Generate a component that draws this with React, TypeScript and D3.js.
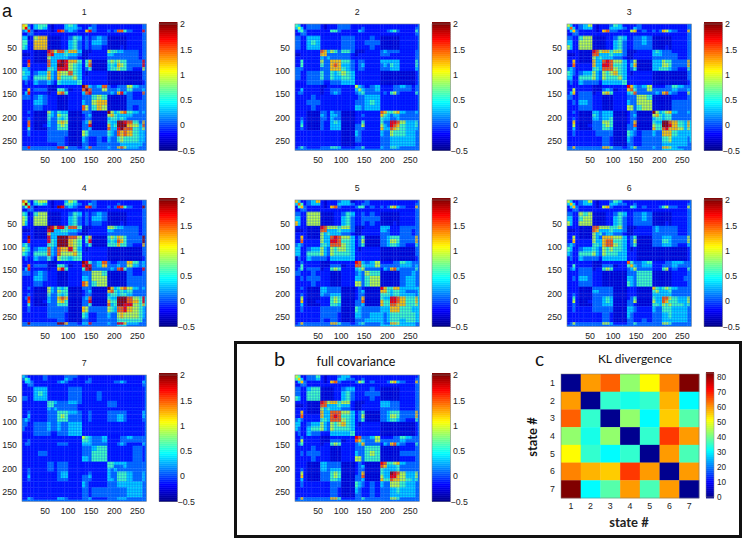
import React from "react";
import * as d3 from "d3";

// Upper triangles of the state covariance matrices (symmetric).
const bandEdges = [0,6,12,18,25,35,45,55,62,69,76,84,92,100,110,120,130,137,144,151,162,173,185,192,199,206,213,220,227,240,253,261,266,270];
// value of each code 0..a
const codeValues = [-0.5, -0.32, -0.15, 0.08, 0.32, 0.6, 0.9, 1.2, 1.45, 1.7, 1.95];
// positions (matrix index) of the fine ripple seen in the matrices
const ripple = [27,33,39,45,51,58,64,70,76,82,88,94,100,106,112,118,124,137,143,149,155,161,167,173,179,185,191,197,203,209,215,221,227,233,239,245,251,257,263];

const R3 = "3 222 222 222 222 222 222 222 222 222 33";

const state1 = ["763 2 455 212 224 542 222 322 222 222 222 33","94 2 454 212 224 443 224 322 222 222 222 33","9 3 122 212 983 432 279 322 323 885 322 93",R3,"677 111 122 354 232 343 111 111 222 33","77 111 122 453 232 443 111 111 222 33","7 111 122 453 232 332 111 121 222 33","986 885 774 111 222 655 443 332 33","94 445 443 112 222 443 333 332 33","4 444 332 112 222 333 333 332 33","9a9 775 257 111 565 655 333 93","a9 654 258 111 454 765 333 93","9 654 235 111 455 655 322 63","854 212 222 111 111 111 33","64 222 222 111 111 111 33","5 222 222 111 111 111 23","a84 348 322 333 643 33","a8 336 333 433 533 43","9 333 343 794 322 83","565 111 111 322 33","77 111 111 333 33","6 111 111 323 33","a64 578 543 43","75 444 433 33","5 454 333 33","aa9 853 73","aa 764 83","8 854 63","754 43","54 43","4 33","33","3"];
const state2 = ["542 2 333 212 223 332 222 222 222 222 222 23","64 2 333 212 223 332 223 222 222 222 222 33","5 3 222 222 553 222 243 222 223 453 222 53",R3,"444 222 222 333 222 232 111 111 222 23","54 222 222 333 222 333 111 111 222 23","4 222 222 333 222 232 111 111 222 23","874 653 553 111 222 343 333 222 33","73 333 332 122 222 333 222 222 33","4 333 332 222 222 222 222 222 33","777 553 233 222 444 444 222 53","87 443 234 222 343 544 222 53","7 543 233 222 333 444 222 43","654 222 222 111 111 111 23","54 222 222 111 111 111 23","4 222 222 111 111 111 23","643 234 222 233 432 33","64 334 222 233 332 33","5 333 232 563 222 53","444 222 222 222 23","54 222 222 222 23","4 222 222 222 23","875 567 433 43","54 344 333 33","4 334 333 33","998 644 53","87 544 53","6 544 43","544 33","44 33","4 33","33","3"];
const state3 = ["642 2 346 212 223 542 222 322 222 222 222 33","84 2 344 212 224 443 224 322 222 222 222 33","7 3 222 212 783 322 267 232 323 764 322 73",R3,"566 111 122 354 223 343 111 111 222 33","66 111 122 453 223 343 111 111 222 33","6 111 122 453 223 333 111 121 222 33","986 775 663 111 222 454 333 222 33","84 445 443 112 222 444 333 322 33","5 444 332 112 222 333 333 322 33","898 664 236 111 444 655 333 73","98 554 247 111 444 665 333 73","8 654 235 111 445 554 322 53","754 212 222 111 111 111 33","64 222 222 111 111 111 33","5 222 222 111 111 111 23","974 346 222 233 543 33","85 336 333 333 433 43","8 333 343 784 322 63","665 111 111 222 33","66 111 111 333 33","6 111 111 333 33","a64 567 433 43","75 455 333 33","5 455 333 33","aa8 754 74","a9 754 74","7 764 64","544 44","44 34","4 33","33","3"];
const state4 = ["863 2 566 212 224 652 222 322 222 222 222 33","a5 2 454 212 225 543 224 322 222 322 222 33","9 3 122 212 a93 432 289 322 323 985 322 a3",R3,"566 111 122 354 232 343 111 111 222 33","66 111 122 453 232 443 111 111 222 33","6 111 122 453 232 332 111 121 222 33","a97 995 885 111 222 665 443 332 33","a4 455 443 112 222 443 333 332 33","4 444 332 112 222 333 333 332 33","aaa 886 257 111 565 765 333 a3","aa 765 259 111 454 875 333 a3","a 765 235 111 555 755 322 73","964 212 222 111 111 111 33","75 222 222 111 111 111 33","5 222 222 111 111 111 23","a95 348 322 333 753 43","a9 347 333 433 643 43","a 333 343 895 322 93","665 111 111 322 33","66 111 111 333 33","6 111 111 333 33","a74 578 643 43","85 454 533 33","5 455 433 33","aaa 865 94","aa 875 94","9 965 74","765 43","65 43","5 33","33","3"];
const state5 = ["742 2 347 212 223 441 222 322 222 222 222 23","85 2 344 212 224 443 223 322 222 222 222 33","7 3 222 212 783 222 355 232 323 674 322 73",R3,"666 111 122 354 223 232 111 111 222 33","66 111 122 453 223 333 111 111 222 33","6 111 122 453 223 232 111 121 222 33","986 665 663 111 222 444 222 333 33","84 445 443 112 222 443 222 332 33","5 444 332 112 222 333 222 332 33","898 664 235 111 334 555 333 73","98 554 236 111 334 665 333 73","8 654 235 111 334 554 322 53","654 212 222 111 111 111 33","54 222 222 111 111 111 33","4 222 222 111 111 111 23","984 346 222 233 543 33","85 446 333 333 443 43","6 333 243 784 333 53","655 111 111 334 33","66 111 111 344 33","6 111 111 344 33","975 577 444 44","75 455 433 34","5 455 444 34","998 755 74","98 755 74","7 755 64","554 44","55 44","5 44","33","3"];
const state6 = ["642 2 346 212 223 542 222 222 222 222 222 23","74 2 344 212 224 433 223 222 222 222 222 33","7 3 222 212 673 222 254 232 223 563 322 63",R3,"656 111 122 354 223 343 111 111 222 33","66 111 122 453 223 343 111 111 222 33","6 111 122 453 223 333 111 121 222 33","886 665 563 111 222 343 333 322 33","74 445 443 112 222 343 333 322 33","5 344 332 112 222 333 333 322 33","777 664 235 111 333 444 333 63","88 554 236 111 333 554 333 63","8 654 235 111 333 444 322 43","554 212 111 111 111 111 23","44 222 111 111 111 111 23","4 222 111 111 111 111 23","853 345 222 233 443 33","74 344 222 333 433 33","6 333 222 562 322 53","555 111 111 222 33","55 111 111 223 33","5 111 111 222 33","754 565 433 33","64 445 333 33","4 444 333 33","886 544 63","75 544 63","6 554 53","444 33","44 33","4 33","33","3"];
const state7 = ["432 2 223 222 223 332 222 222 222 222 222 23","54 2 223 222 224 322 223 222 222 222 222 23","4 3 222 222 343 222 233 222 223 343 222 43",R3,"444 222 222 333 222 222 222 222 222 23","54 222 222 333 222 232 222 222 222 23","4 222 222 333 222 232 222 222 222 23","554 333 443 222 222 333 222 222 23","53 333 332 222 222 333 222 222 23","4 333 332 222 222 222 222 222 23","555 443 223 222 333 333 222 43","65 333 223 222 333 443 222 43","5 333 223 222 333 443 222 33","444 222 222 222 222 222 23","44 222 222 222 222 222 23","4 222 222 222 222 222 23","654 334 222 233 433 33","54 334 222 233 333 33","4 333 222 343 222 43","455 222 222 233 23","55 222 222 233 23","5 222 222 233 23","554 444 333 33","53 334 333 33","4 333 333 33","555 433 43","55 433 43","5 433 43","444 33","44 33","4 33","33","3"];
const fullCov = ["652 2 335 212 223 442 222 222 222 222 222 23","74 2 334 212 224 433 223 222 222 222 222 33","7 3 222 212 783 222 365 232 223 674 322 73",R3,"455 111 122 344 222 232 111 111 222 33","55 111 122 453 222 333 111 111 222 33","5 111 122 453 222 232 111 111 222 33","986 775 662 111 222 444 333 222 33","84 445 442 112 222 444 333 222 33","5 444 332 112 222 333 333 222 33","888 664 235 111 334 555 333 73","98 554 236 111 334 665 333 73","8 654 235 111 334 554 322 53","754 212 222 111 111 111 23","54 222 222 111 111 111 23","5 222 222 111 111 111 23","983 346 222 233 543 33","74 336 333 333 433 33","7 333 243 784 322 53","555 111 111 222 33","65 111 111 333 33","5 111 111 222 33","985 567 433 33","74 445 333 33","4 445 333 33","a98 644 63","97 644 63","7 654 53","544 33","44 33","4 33","33","3"];

const klStates = [1, 2, 3, 4, 5, 6, 7];
const klValues = [
  [0, 60, 65, 43, 52, 62, 83],
  [60, 0, 35, 33, 35, 58, 31],
  [65, 35, 0, 43, 31, 56, 38],
  [43, 33, 43, 0, 35, 68, 60],
  [52, 35, 31, 35, 0, 60, 37],
  [62, 58, 56, 68, 60, 0, 60],
  [83, 31, 38, 60, 37, 60, 0],
];

const matrixTicks = [50, 100, 150, 200, 250];
const barTicks = [-0.5, 0, 0.5, 1, 1.5, 2];
const klBarTicks = [0, 10, 20, 30, 40, 50, 60, 70, 80];

const panels = [
  { title: "1", rows: state1, x: 22, y: 24 },
  { title: "2", rows: state2, x: 295, y: 24 },
  { title: "3", rows: state3, x: 567, y: 24 },
  { title: "4", rows: state4, x: 22, y: 200 },
  { title: "5", rows: state5, x: 295, y: 200 },
  { title: "6", rows: state6, x: 567, y: 200 },
  { title: "7", rows: state7, x: 22, y: 375 },
  { title: "", rows: fullCov, x: 295, y: 375 },
];

const jetStops = ["#00008f", "#0000ff", "#00ffff", "#ffff00", "#ff0000", "#800000"];
const jetAt = d3.scaleLinear<string>().domain([0, 1 / 8, 3 / 8, 5 / 8, 7 / 8, 1]).range(jetStops).clamp(true);
const covColor = (v: number) => jetAt((v + 0.5) / 2.5);
const klColor = (v: number) => jetAt(v / 83);

const sans = "'Liberation Sans', Arial, sans-serif";
const gill = "Lato, sans-serif";

function unpack(rows: string[]): number[][] {
  const n = bandEdges.length - 1;
  const m = d3.range(n).map(() => d3.range(n).map(() => 0));
  rows.forEach((r, i) => {
    const s = r.replace(/\s/g, "");
    d3.range(i, n).forEach((j) => {
      const ch = s[j - i] ?? "2";
      const v = codeValues[parseInt(ch, 16)];
      m[i][j] = v;
      m[j][i] = v;
    });
  });
  return m;
}

const W = 124.5;
const H = 126.5;

function CovPanel({ p, idx }: { p: (typeof panels)[number]; idx: number }) {
  const m = unpack(p.rows);
  const sx = d3.scaleLinear().domain([0, 270]).range([0, W]);
  const sy = d3.scaleLinear().domain([0, 270]).range([0, H]);
  const bar = d3.scaleLinear().domain([-0.5, 2]).range([H, 0]);
  const steps = d3.range(64).map((i) => -0.5 + (i * 2.5) / 63);
  return (
    <g transform={`translate(${p.x},${p.y})`}>
      <clipPath id={`clip${idx}`}>
        <rect x={0} y={0} width={W} height={H} />
      </clipPath>
      <g clipPath={`url(#clip${idx})`}>
        <g filter="url(#soft)">
          {m.map((row, i) =>
            row.map((v, j) => (
              <rect
                key={`${i}-${j}`}
                x={sx(bandEdges[j])}
                y={sy(bandEdges[i])}
                width={sx(bandEdges[j + 1]) - sx(bandEdges[j]) + 0.3}
                height={sy(bandEdges[i + 1]) - sy(bandEdges[i]) + 0.3}
                fill={covColor(v)}
              />
            ))
          )}
          {ripple.map((r) => (
            <g key={r} stroke="#0048ff" strokeOpacity={0.24} strokeWidth={1.2}>
              <line x1={sx(r)} x2={sx(r)} y1={0} y2={H} />
              <line y1={sy(r)} y2={sy(r)} x1={0} x2={W} />
            </g>
          ))}
        </g>
      </g>
      <rect width={W} height={H} fill="none" stroke="#6f7f9a" strokeWidth={0.6} />
      {p.title && (
        <text x={W / 2} y={-9} textAnchor="middle" fontFamily={sans} fontSize={8.8} fill="#222">{p.title}</text>
      )}
      {matrixTicks.map((t) => (
        <g key={t} fontFamily={sans} fontSize={8.8} fill="#222">
          <text x={sx(t)} y={H + 12} textAnchor="middle">{t}</text>
          <text x={-5} y={sy(t) + 3.2} textAnchor="end">{t}</text>
        </g>
      ))}
      <g transform={`translate(${137},0)`}>
        {steps.map((v, i) => (
          <rect key={i} x={0} y={bar(v) - H / 64} width={18.5} height={H / 63 + 0.4} fill={covColor(v)} />
        ))}
        <rect width={18.5} height={H} fill="none" stroke="#777" strokeWidth={0.5} />
        {barTicks.map((t) => (
          <text key={t} x={t < 0 ? 18.5 : 21} y={bar(t) + (t === 2 ? 2.5 : 3.2)} fontFamily={sans} fontSize={8.8} fill="#222">
            {t < 0 ? "\u22120.5" : t}
          </text>
        ))}
      </g>
    </g>
  );
}

function KLPanel() {
  const x0 = 561, y0 = 374, w = 138, h = 124;
  const sx = d3.scaleBand<number>().domain(klStates).range([0, w]);
  const sy = d3.scaleBand<number>().domain(klStates).range([0, h]);
  const bar = d3.scaleLinear().domain([0, 83]).range([124, 0]);
  const steps = d3.range(64).map((i) => (i * 83) / 63);
  return (
    <g transform={`translate(${x0},${y0})`}>
      <g filter="url(#soft)">
        {klValues.map((row, i) =>
          row.map((v, j) => (
            <rect key={`${i}-${j}`} x={sx(klStates[j])} y={sy(klStates[i])} width={sx.bandwidth() + 0.3} height={sy.bandwidth() + 0.3} fill={klColor(v)} />
          ))
        )}
      </g>
      <rect width={w} height={h} fill="none" stroke="#777" strokeWidth={0.5} />
      {klStates.map((s) => (
        <g key={s} fontFamily={sans} fontSize={8.8} fill="#222">
          <text x={sx(s)! + sx.bandwidth() / 2} y={h + 11} textAnchor="middle">{s}</text>
          <text x={-6} y={sy(s)! + sy.bandwidth() / 2 + 3} textAnchor="end">{s}</text>
        </g>
      ))}
      <text x={w / 2 - 1} y={h + 29} textAnchor="middle" fontFamily={gill} fontSize={13} fontWeight={700} fill="#222">state #</text>
      <text transform={`translate(-24.5,${h / 2 + 1}) rotate(-90)`} textAnchor="middle" fontFamily={gill} fontSize={13} fontWeight={700} fill="#111">state #</text>
      <text x={74} y={-11} textAnchor="middle" fontFamily={gill} fontSize={12} fill="#111">KL divergence</text>
      <g transform="translate(145,-1)">
        {steps.map((v, i) => (
          <rect key={i} x={0} y={bar(v) - 1} width={8} height={2.4} fill={klColor(v)} />
        ))}
        <rect width={8} height={124} fill="none" stroke="#888" strokeWidth={0.5} />
        {klBarTicks.map((t) => (
          <text key={t} x={11} y={bar(t) + 3} fontFamily={sans} fontSize={8.2} fill="#222">{t}</text>
        ))}
      </g>
    </g>
  );
}

export default function App() {
  return (
    <svg width={744} height={539} viewBox="0 0 744 539" style={{ position: "fixed", left: 0, top: 0, display: "block", background: "#fff" }}>
      <defs>
        <filter id="soft" x="-2%" y="-2%" width="104%" height="104%">
          <feGaussianBlur stdDeviation={0.55} />
        </filter>
      </defs>
      <text x={2} y={17} fontFamily={sans} fontSize={18} fill="#111">a</text>
      {panels.map((p, i) => (
        <CovPanel key={i} p={p} idx={i} />
      ))}
      <rect x={235.5} y={342.5} width={505} height={194} fill="none" stroke="#111" strokeWidth={3} />
      <text x={274} y={366} fontFamily={gill} fontSize={20} fill="#111">b</text>
      <text x={356} y={366} textAnchor="middle" fontFamily={gill} fontSize={12.5} fill="#111">full covariance</text>
      <text x={535} y={366} fontFamily={gill} fontSize={19} fill="#111">c</text>
      <KLPanel />
    </svg>
  );
}
